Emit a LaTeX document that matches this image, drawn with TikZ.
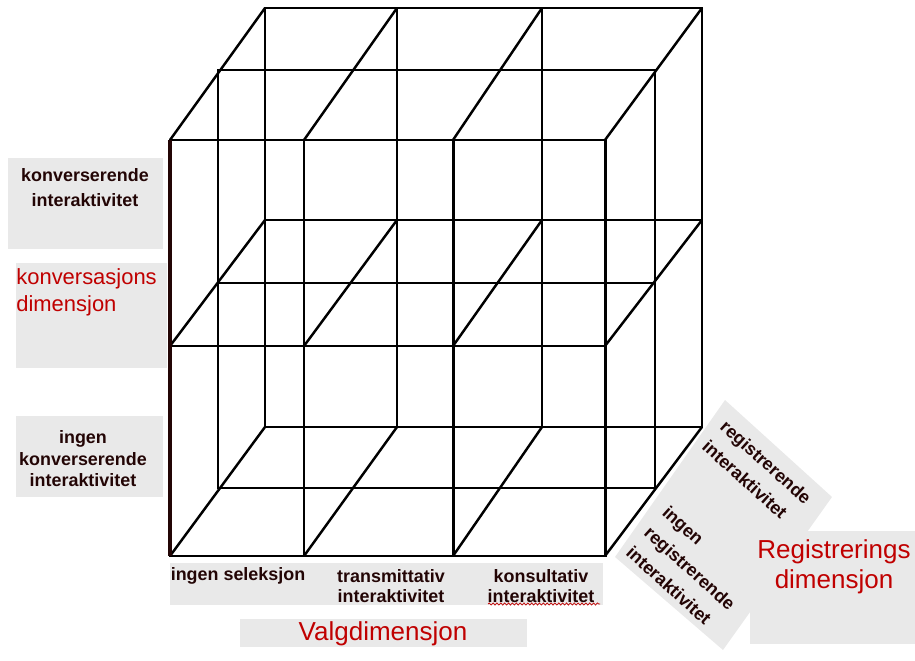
\documentclass[tikz,border=0pt]{standalone}
\usepackage{fontspec}
\setmainfont{Liberation Sans}
\usetikzlibrary{decorations.pathmorphing}

\definecolor{boxgray}{RGB}{233,233,233}
\definecolor{dimred}{RGB}{192,0,0}
\definecolor{inkbrown}{RGB}{35,5,5}

\tikzset{
  edge/.style={black, line width=1.4pt},
  frontedge/.style={black, line width=1.7pt},
  lbl/.style={inner sep=0pt, text=inkbrown, align=center,
    font=\bfseries\fontsize{10.2}{14.2}\selectfont},
  dimlbl/.style={inner sep=0pt, text=dimred, align=left,
    font=\fontsize{12.5}{15.4}\selectfont},
}

\begin{document}
\begin{tikzpicture}[x=0.02cm,y=-0.02cm]

   \useasboundingbox (0,0) rectangle (915,661);

%    grey text boxes
   \fill[boxgray] (8,158) rectangle (163,249);
   \fill[boxgray] (16,263) rectangle (167,368);
   \fill[boxgray] (16,416) rectangle (163,497);
   \fill[boxgray] (170,563) rectangle (603,605);
   \fill[boxgray] (240,619) rectangle (527,647);
   \fill[boxgray] (725,400) -- (832,497) -- (723,650) -- (615,557) -- cycle;
   \fill[boxgray] (750,531) rectangle (915,644);

%    back face
   \draw[edge] (265,8) rectangle (702,427);
   \draw[edge] (265,220) -- (702,220);
   \draw[edge] (397,8) -- (397,427) (542,8) -- (542,427);

%    middle layer
   \draw[edge] (218,70) rectangle (655,488);
   \draw[edge] (218,283) -- (655,283);

%    depth lines
   \foreach \xf/\xb in {170/265,304/397,453/542,605/702}
      \foreach \yf/\yb in {140/8,346/220,556/427}
         \draw[edge] (\xf,\yf) -- (\xb,\yb);

%    front face
   \draw[frontedge] (170,140) rectangle (605,556);
   \draw[frontedge] (170,346) -- (605,346);
   \draw[frontedge] (304,140) -- (304,556) (453,140) -- (453,556);
   \draw[inkbrown, line width=2.8pt] (170,140) -- (170,556);

%    left labels
   \node[lbl] (konvint) at (85,188) {konverserende\\interaktivitet};
   \node[dimlbl, anchor=west] (konvdim) at (16,292) {konversasjons\\dimensjon};
   \node[lbl, font=\bfseries\fontsize{10.2}{12.2}\selectfont] (ingenkonv) at (83,459)
      {ingen\\konverserende\\interaktivitet};

%    bottom labels
   \node[lbl] (ingensel) at (238,576) {ingen seleksjon};
   \node[lbl, font=\bfseries\fontsize{10.2}{11.4}\selectfont] (transm) at (391,586)
      {transmittativ\\interaktivitet};
   \node[lbl, font=\bfseries\fontsize{10.2}{11.4}\selectfont] (konsult) at (541,586)
      {konsultativ\\interaktivitet};
   \draw[dimred, line width=0.4pt, decorate,
      decoration={snake, amplitude=0.6pt, segment length=2.2pt}] (488,604) -- (600,604);
   \node[dimlbl, font=\fontsize{14.8}{17}\selectfont] (valg) at (383,634) {Valgdimensjon};

%    right labels
   \node[lbl, align=left, rotate=-42, font=\bfseries\fontsize{10.2}{15.4}\selectfont]
      (regint) at (757,472) {registrerende\\interaktivitet};
   \node[lbl, align=left, rotate=-42, font=\bfseries\fontsize{10.2}{15.4}\selectfont]
      (ingenreg) at (690,568) {ingen\\registrerende\\interaktivitet};
   \node[dimlbl, align=center, font=\fontsize{14.8}{17}\selectfont] (regdim) at (834,567)
      {Registrerings\\dimensjon};

 \end{tikzpicture}
\end{document}
